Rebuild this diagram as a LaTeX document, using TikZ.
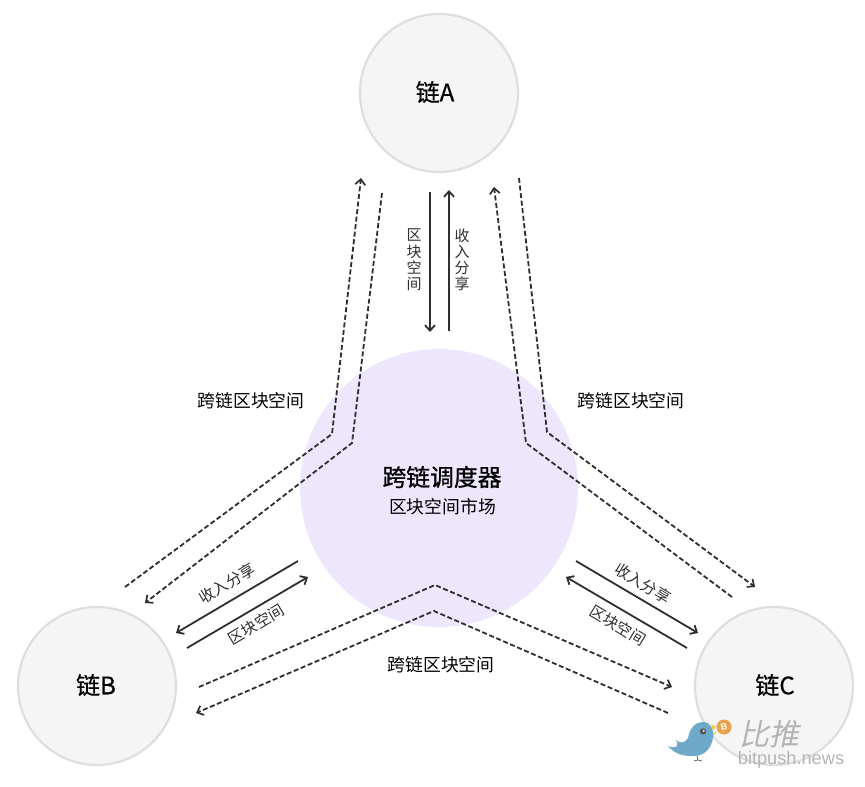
\documentclass[tikz,border=0pt]{standalone}
\usepackage{fontspec}
\setmainfont{Noto Sans CJK SC}
\newfontfamily\latinfont{Liberation Sans}
\newfontfamily\slantcjk[FakeSlant=0.2]{Noto Sans CJK SC}
\newfontfamily\hubcjk[FakeBold=0.9]{Noto Sans CJK SC}
\newfontfamily\chaincjk[FakeBold=0.4]{Noto Sans CJK SC}
\usetikzlibrary{arrows.meta}
\definecolor{chainfill}{HTML}{F5F5F5}
\definecolor{chainline}{HTML}{DEDEDE}
\definecolor{hubfill}{HTML}{EDE6FD}
\definecolor{ink}{HTML}{2E2E2E}
\definecolor{markgray}{HTML}{B4B4B4}
\definecolor{birdblue}{HTML}{6FA9C9}
\definecolor{beak}{HTML}{F5C93A}
\definecolor{coin}{HTML}{E8A24E}
\tikzset{
  x=1pt,y=-1pt,
  chain/.style={circle,draw=chainline,line width=2.2pt,fill=chainfill,minimum size=158pt,inner sep=0pt},
  chaintext/.style={font=\chaincjk\fontsize{24}{26}\selectfont,inner sep=0pt,text=black},
  hub/.style={circle,fill=hubfill,minimum size=278pt,inner sep=0pt},
  lbl/.style={font=\fontsize{15.5}{18}\selectfont,text=ink,inner sep=0pt},
  wide/.style={font=\fontsize{17.8}{20}\selectfont,text=black,inner sep=0pt},
  dashlink/.style={draw=ink,line width=1.8pt,dash pattern=on 5pt off 2.6pt,-{Straight Barb[length=5.5pt,width=10pt,line width=1.7pt]}},
  flow/.style={draw=ink,line width=1.8pt,-{Straight Barb[length=5.5pt,width=10pt,line width=1.8pt]}},
}
\begin{document}
\begin{tikzpicture}
\useasboundingbox (0,0) rectangle (865,787);
\node[hub] (hub) at (439,488) {};
\node[chain] (A) at (439,93) {};
\node[chain] (B) at (97,686) {};
\node[chain] (C) at (774,686) {};
\node[chaintext] (At) at (435,92) {链A};
\node[chaintext] (Bt) at (96,685) {链B};
\node[chaintext] (Ct) at (775,685) {链C};
\node[font=\hubcjk\fontsize{23.8}{26}\selectfont,inner sep=0pt,text=black] (hubt) at (442,477) {跨链调度器};
\node[wide] (hubs) at (442.5,507) {区块空间市场};
% named end points
\coordinate (a1) at (125,587); \coordinate (a2) at (332,434); \coordinate (a3) at (361,178);
\coordinate (b1) at (382,193); \coordinate (b2) at (352,443); \coordinate (b3) at (145,603);
\coordinate (c1) at (519,178); \coordinate (c2) at (547,432); \coordinate (c3) at (755,587);
\coordinate (d1) at (732,597); \coordinate (d2) at (526,443); \coordinate (d3) at (494,187);
\coordinate (e1) at (199,687); \coordinate (e2) at (435,585); \coordinate (e3) at (672,687);
\coordinate (f1) at (668,713); \coordinate (f2) at (434,611); \coordinate (f3) at (196,713);
\draw[dashlink] (a1) -- (a2) -- (a3);
\draw[dashlink] (b1) -- (b2) -- (b3);
\draw[dashlink] (c1) -- (c2) -- (c3);
\draw[dashlink] (d1) -- (d2) -- (d3);
\draw[dashlink] (e1) -- (e2) -- (e3);
\draw[dashlink] (f1) -- (f2) -- (f3);
\coordinate (g1) at (430,192); \coordinate (g2) at (430,332);
\coordinate (h1) at (449,331); \coordinate (h2) at (449,190);
\coordinate (i1) at (298,561); \coordinate (i2) at (176,633);
\coordinate (j1) at (187,648); \coordinate (j2) at (308,577);
\coordinate (k1) at (576,561); \coordinate (k2) at (698,633);
\coordinate (l1) at (687,648); \coordinate (l2) at (566,577);
\draw[flow] (g1) -- (g2);
\draw[flow] (h1) -- (h2);
\draw[flow] (i1) -- (i2);
\draw[flow] (j1) -- (j2);
\draw[flow] (k1) -- (k2);
\draw[flow] (l1) -- (l2);
% labels
\node[lbl,align=center,font=\fontsize{15}{16.2}\selectfont] (v1) at (414,260) {区\\块\\空\\间};
\node[lbl,align=center,font=\fontsize{15}{16.2}\selectfont] (v2) at (462,260) {收\\入\\分\\享};
\node[wide] (t1) at (251,401) {跨链区块空间};
\node[wide] (t2) at (631,401) {跨链区块空间};
\node[wide] (t3) at (441,665) {跨链区块空间};
\node[lbl,rotate=31] (t4) at (227,583) {收入分享};
\node[lbl,rotate=31] (t5) at (256,624) {区块空间};
\node[lbl,rotate=-31] (t6) at (643,583) {收入分享};
\node[lbl,rotate=-31] (t7) at (618,625) {区块空间};
% watermark bird
\fill[birdblue] (668,746) .. controls (675,749) and (680,747) .. (676,740)
  .. controls (680,744) and (685,743) .. (688,738)
  .. controls (690,727) and (696,722) .. (703,722)
  .. controls (711,722) and (714,730) .. (713,738)
  .. controls (711,750) and (703,757) .. (691,756)
  .. controls (681,756) and (674,753) .. (668,746) -- cycle;
\fill[beak] (711,725) -- (716,726) -- (713,731) -- cycle;
\fill[beak] (713,733) -- (717,731) -- (713,736) -- cycle;
\fill[black!65] (703,731.5) circle (3.2);
\fill[white] (703.8,730.8) circle (1);
\draw[black!70,line width=.7pt] (697,756) -- (698,760) (694,761) -- (698,760) -- (702,761);
\fill[coin] (724,727) circle (7.5);
\node[text=white,font=\latinfont\bfseries\fontsize{9}{9}\selectfont,inner sep=0pt] (btc) at (724,727) {\rotatebox{12}{B}};
\node[text=markgray,font=\slantcjk\fontsize{30}{32}\selectfont,inner sep=0pt] (mk1) at (769,734) {比推};
\node[text=markgray,font=\latinfont\fontsize{18.2}{20}\selectfont,inner sep=0pt] (mk2) at (791,760) {bitpush.news};
\end{tikzpicture}
\end{document}
